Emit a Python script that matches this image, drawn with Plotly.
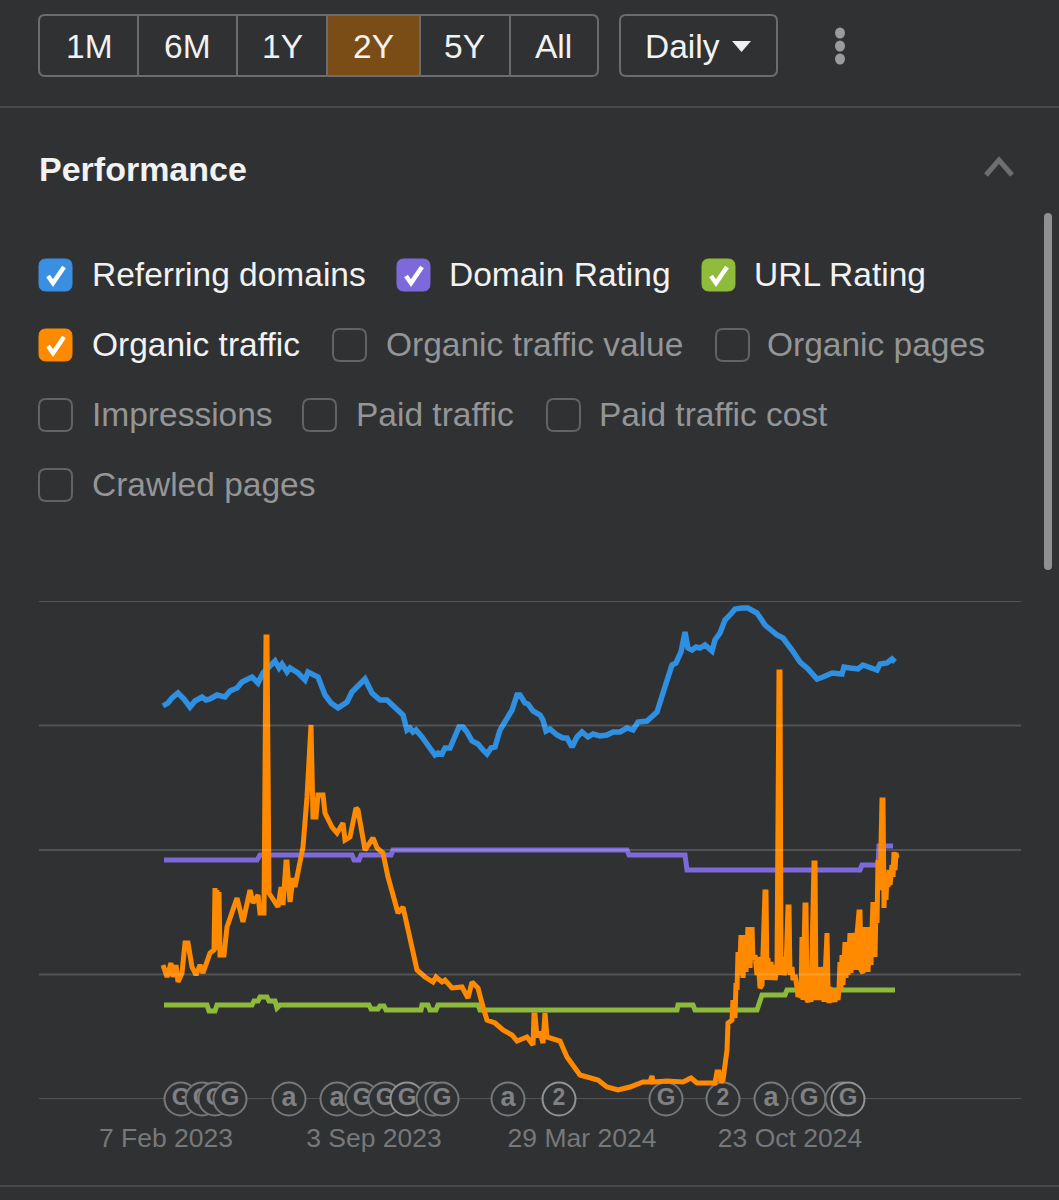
import pandas as pd
import plotly.graph_objects as go

WIDTH, HEIGHT = 1059, 1200
BG = "#303133"
START = pd.Timestamp("2022-08-25")  # day 0 of the series below

# Referring domains (index units)
rd_days = [163,168,172,178,184,190,195,202,206,210,217,225,230,237,242,252,258,263,268,275,279,282,287,290,298,305,308,318,325,331,338,347,352,360,365,372,380,387,398,400,403,407,410,413,416,422,427,432,435,438,442,445,450,455,459,463,467,472,478,483,487,491,495,500,507,512,517,520,525,528,533,540,543,546,550,557,563,567,572,577,582,588,593,600,607,613,620,627,633,638,647,657,663,668,672,676,681,685,688,692,696,700,705,712,715,720,725,730,735,742,748,757,765,777,783,792,800,808,817,823,832,842,844,850,858,863,877,880,887,892,895]
rd_vals = [393,396,401,406,400,392,398,402,399,400,404,402,408,411,417,422,416,426,431,438,431,435,427,431,426,419,427,422,404,396,391,397,407,414,420,406,399,399,389,387,384,369,371,367,369,362,356,348,344,346,345,351,351,361,372,372,367,358,355,349,345,351,352,369,382,389,404,404,396,395,388,384,379,368,370,364,361,361,352,362,367,362,365,363,364,367,367,371,369,377,378,387,406,424,434,436,447,467,451,449,452,451,454,448,459,466,479,484,490,491,491,486,474,464,461,449,437,430,420,422,426,425,432,431,430,434,429,435,436,440,437]

# Domain Rating
dr_days = [164,257,260,352,354,359,361,391,393,627,629,685,687,860,862,878,879,893]
dr_vals = [239,239,244,244,239,239,244,244,249,249,244,244,229,229,234,234,253,253]

# URL Rating
ur_days = [164,207,209,215,217,252,254,258,260,267,269,275,277,280,369,371,378,380,384,386,421,422,428,430,436,438,478,480,677,678,693,695,757,762,785,787,895]
ur_vals = [94,94,88,88,94,94,98,98,102,102,98,98,91,94,94,90,90,93,93,89,89,94,94,89,89,94,94,89,89,94,94,89,89,104,104,109,109]

# Organic traffic as (day, value) readings
organic_traffic = [
    (163,134),(167,122),(171,136),(173,122),(176,134),(178,117),(182,126),(185,156),(188,156),(192,132),
    (196,124),(200,134),(203,126),(210,146),(214,149),(215,211),(216,149),(217,209),(218,149),(219,207),
    (220,144),(224,144),(227,172),(232,186),(237,201),(243,177),(250,209),(253,196),(258,204),(260,186),
    (264,186),(266,462),(267,462),(269,206),(278,192),(281,212),(283,194),(286,237),(287,237),(290,197),
    (293,221),(295,212),(303,252),(307,302),(310,374),(311,374),(313,282),(316,282),(318,304),(323,304),
    (325,286),(332,272),(337,266),(343,276),(345,259),(350,262),(356,291),(358,289),(365,249),(373,261),
    (377,251),(383,246),(388,222),(398,186),(403,192),(412,149),(417,129),(425,122),(433,117),(436,122),
    (442,117),(445,119),(452,111),(462,112),(468,101),(472,117),(478,111),(483,92),(487,79),(495,76),
    (503,69),(512,64),(517,58),(527,62),(533,54),(534,84),(535,84),(537,62),(540,67),(543,56),
    (544,86),(545,86),(547,62),(560,58),(567,42),(580,24),(598,19),(607,12),(618,9),(630,12),
    (643,17),(650,17),(652,23),(653,17),(667,18),(683,17),(691,21),(697,16),(715,16),(717,27),
    (719,27),(721,17),(723,19),(727,49),(728,76),(732,79),(733,99),(735,81),(736,116),(737,109),
    (738,147),(739,124),(740,139),(741,164),(743,121),(745,164),(746,127),(747,164),(748,172),(750,131),
    (752,172),(753,139),(755,144),(757,124),(758,142),(760,111),(762,114),(765,207),(766,207),(767,119),
    (768,141),(769,119),(771,137),(772,119),(774,134),(775,119),(777,131),(779,427),(780,427),(781,124),
    (783,142),(784,124),(786,130),(788,192),(789,192),(790,124),(792,132),(793,119),(795,124),(797,112),
    (798,102),(800,114),(801,101),(802,162),(803,99),(805,194),(806,194),(807,99),(808,97),(810,109),
    (811,97),(814,236),(815,236),(816,99),(818,132),(819,99),(820,132),(821,99),(823,132),(824,97),
    (826,166),(827,166),(828,112),(829,96),(830,112),(832,97),(834,107),(835,97),(836,109),(838,99),
    (839,111),(840,137),(841,109),(842,144),(843,114),(845,157),(846,121),(847,154),(848,124),(850,166),
    (851,126),(852,164),(853,132),(855,166),(856,129),(857,164),(859,187),(860,187),(861,129),(863,126),
    (864,172),(866,127),(867,172),(868,127),(870,172),(871,134),(872,169),(873,197),(874,149),(875,142),
    (876,194),(877,176),(878,239),(880,209),(882,299),(883,299),(884,191),(885,226),(886,199),(887,226),
    (888,212),(889,229),(890,214),(892,234),(893,222),(894,247),(895,229),(896,246),(897,241),
]
ot_days = [p[0] for p in organic_traffic]
ot_vals = [p[1] for p in organic_traffic]

# Algorithm updates and site events along the baseline
event_days = [181,202,215,230,289,337,362,385,407,433,442,508,559,666,723,771,809,842,848]
event_tags = ["G","G","G","G","a","a","G","G","G","G","G","a","2","G","2","a","G","G","G"]
event_bright = [559, 407, 848]

tick_dates = ["2023-02-07", "2023-09-03", "2024-03-29", "2024-10-23"]
tick_labels = ["7 Feb 2023", "3 Sep 2023", "29 Mar 2024", "23 Oct 2024"]
grid_levels = [124.5, 249, 373.5, 498]

range_buttons = ["1M", "6M", "1Y", "2Y", "5Y", "All"]
checked_items = [("Referring domains", "#3a8fe2"), ("Domain Rating", "#7d69d9"),
                 ("URL Rating", "#8fbc3a"), ("Organic traffic", "#ff8a00")]


def dates(days):
    return [START + pd.Timedelta(days=int(d)) for d in days]


def fx(px):
    return px / WIDTH


def fy(py):
    return 1 - py / HEIGHT


def rounded(x0, y0, x1, y1, r):
    """SVG path for a rounded rectangle, given in page pixels, as paper fractions."""
    p = lambda x, y: f"{fx(x):.5f},{fy(y):.5f}"
    return (f"M{p(x0 + r, y0)} L{p(x1 - r, y0)} Q{p(x1, y0)} {p(x1, y0 + r)} "
            f"L{p(x1, y1 - r)} Q{p(x1, y1)} {p(x1 - r, y1)} L{p(x0 + r, y1)} "
            f"Q{p(x0, y1)} {p(x0, y1 - r)} L{p(x0, y0 + r)} Q{p(x0, y0)} {p(x0 + r, y0)} Z")


def poly(points, close=False):
    s = "M" + " L".join(f"{fx(x):.5f},{fy(y):.5f}" for x, y in points)
    return s + (" Z" if close else "")


shapes, notes = [], []


def box(x0, y0, x1, y1, r=6, fill=None, line="#6b6c6e", width=2):
    shapes.append(dict(type="path", xref="paper", yref="paper", path=rounded(x0, y0, x1, y1, r),
                       fillcolor=fill or "rgba(0,0,0,0)", line=dict(color=line, width=width), layer="below"))


def rule(x0, y0, x1, y1, color, width=2):
    shapes.append(dict(type="line", xref="paper", yref="paper", x0=fx(x0), x1=fx(x1), y0=fy(y0), y1=fy(y1),
                       line=dict(color=color, width=width), layer="below"))


def label(x, y, text, color="#f2f2f2", size=33.5, anchor="left", weight=None):
    # annotations carry about 2px of inner padding on each side
    shift = -2.5 if anchor == "left" else 0
    notes.append(dict(xref="paper", yref="paper", x=fx(x), y=fy(y), text=text, showarrow=False,
                      xanchor=anchor, yanchor="middle", xshift=shift,
                      font=dict(family="Liberation Sans", size=size, color=color, weight=weight)))


def checkbox(x, y, text, text_x, color=None):
    if color:
        box(x, y - 16, x + 33, y + 16, r=7, fill=color, line=color, width=1)
        shapes.append(dict(type="path", xref="paper", yref="paper", layer="above",
                           path=poly([(x + 9, y + 1), (x + 14, y + 8), (x + 25, y - 8)]),
                           line=dict(color="white", width=4.5)))
        label(text_x, y - 0.5, text)
    else:
        box(x, y - 16, x + 33, y + 16, r=7, line="#626365")
        label(text_x, y - 0.5, text, color="#949596")


# Range selector
dividers = [138, 237, 327, 420, 510]
centers = [89, 187, 282, 373, 464, 554]
shapes.append(dict(type="rect", xref="paper", yref="paper", x0=fx(327), x1=fx(420), y0=fy(15), y1=fy(77),
                   fillcolor="#7a4d17", line=dict(width=0), layer="below"))
box(39, 15, 598, 76)
for d in dividers:
    rule(d, 15, d, 76, "#6b6c6e")
for text, c in zip(range_buttons, centers):
    label(c, 46, text, anchor="center")
box(620, 15, 777, 76)
label(645, 46, "Daily")
shapes.append(dict(type="path", xref="paper", yref="paper", path=poly([(732, 41), (751, 41), (741.5, 52)], close=True),
                   fillcolor="#f0f0f0", line=dict(width=0), layer="above"))
for cy in (33, 46, 59):
    shapes.append(dict(type="circle", xref="paper", yref="paper", x0=fx(835), x1=fx(845), y0=fy(cy - 5.5), y1=fy(cy + 5.5),
                       fillcolor="#9a9b9c", line=dict(width=0), layer="above"))

rule(0, 107, WIDTH, 107, "#48494b")
rule(0, 1186, WIDTH, 1186, "#48494b")

# Section header
label(39, 169, "Performance", size=34, weight="bold")
shapes.append(dict(type="path", xref="paper", yref="paper", path=poly([(986, 175), (999, 160), (1012, 175)]),
                   line=dict(color="#6d6e70", width=5), layer="above"))
box(1044, 213, 1052, 570, r=4, fill="#8f9091", line="#8f9091", width=0)

# Metric toggles
checkbox(39, 275, checked_items[0][0], 92, checked_items[0][1])
checkbox(397, 275, checked_items[1][0], 449, checked_items[1][1])
checkbox(702, 275, checked_items[2][0], 754, checked_items[2][1])
checkbox(39, 345, checked_items[3][0], 92, checked_items[3][1])
checkbox(333, 345, "Organic traffic value", 386)
checkbox(716, 345, "Organic pages", 767)
checkbox(39, 415, "Impressions", 92)
checkbox(303, 415, "Paid traffic", 356)
checkbox(547, 415, "Paid traffic cost", 599)
checkbox(39, 485, "Crawled pages", 92)

# Horizontal guides: the baseline sits under the event badges, the others over the lines
shapes.append(dict(type="line", xref="paper", yref="y", x0=fx(39), x1=fx(1021), y0=0, y1=0,
                   line=dict(color="#525355", width=2), layer="below"))
for level in grid_levels:
    shapes.append(dict(type="line", xref="paper", yref="y", x0=fx(39), x1=fx(1021), y0=level, y1=level,
                       line=dict(color="rgba(255,255,255,0.16)", width=2), layer="above"))

fig = go.Figure()

tag_sizes = {"G": 24, "a": 27, "2": 23}
for day, tag in zip(event_days, event_tags):
    ring = "#929395" if day in event_bright else "#77787a"
    fig.add_trace(go.Scatter(
        x=dates([day]), y=[0], mode="markers+text", text=[tag], textposition="middle center",
        textfont=dict(family="Liberation Sans", size=tag_sizes[tag], color="#808183", weight="bold"),
        marker=dict(size=33, color=BG, line=dict(color=ring, width=2)),
        cliponaxis=False, showlegend=False, hoverinfo="skip"))

for name, xs, ys, color, w in [
    ("Referring domains", rd_days, rd_vals, "#2f8fe0", 5.5),
    ("Domain Rating", dr_days, dr_vals, "#7d69d9", 5),
    ("URL Rating", ur_days, ur_vals, "#8dba3b", 5),
    ("Organic traffic", ot_days, ot_vals, "#ff8a00", 5),
]:
    fig.add_trace(go.Scatter(x=dates(xs), y=ys, mode="lines", name=name,
                             line=dict(color=color, width=w), cliponaxis=False, showlegend=False))

fig.update_layout(
    width=WIDTH, height=HEIGHT, autosize=False,
    margin=dict(l=0, r=0, t=0, b=0, pad=0),
    paper_bgcolor=BG, plot_bgcolor=BG,
    showlegend=False, shapes=shapes, annotations=notes,
    xaxis=dict(domain=[fx(39), fx(1021)], type="date",
               range=[START + pd.Timedelta(days=39), START + pd.Timedelta(days=1021)],
               showgrid=False, zeroline=False, showline=False, ticks="",
               tickmode="array", tickvals=tick_dates, ticktext=tick_labels,
               ticklabelstandoff=20,
               tickfont=dict(family="Liberation Sans", size=26.5, color="#77787a")),
    yaxis=dict(domain=[fy(1099), fy(601)], range=[0, 498], showgrid=False, zeroline=False,
               showline=False, showticklabels=False, ticks=""),
)

fig.write_html("out.html", config=dict(displayModeBar=False))
